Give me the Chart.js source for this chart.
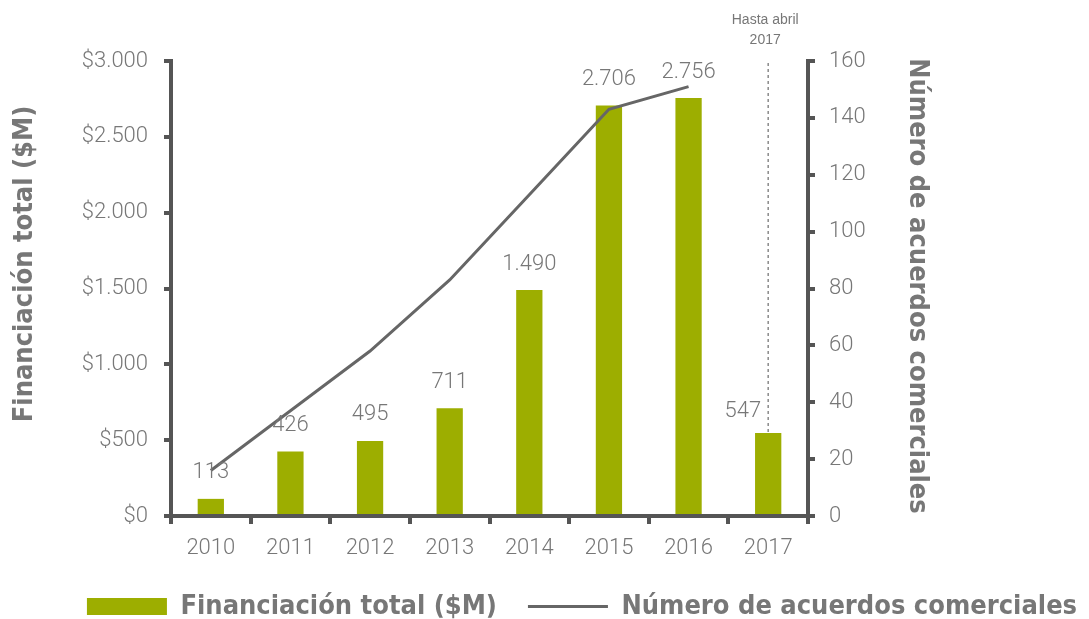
<!DOCTYPE html>
<html lang="es">
<head>
<meta charset="utf-8">
<title>Financiación total y número de acuerdos comerciales</title>
<script src="https://cdn.jsdelivr.net/npm/chart.js@4.4.1/dist/chart.umd.min.js"></script>
<style>
    html, body { margin: 0; padding: 0; background: #fff; }
    .chart-box { position: relative; width: 1089px; height: 619px; }
</style>
</head>
<body>
<div class="chart-box"><canvas id="fundingChart"></canvas></div>
<script>
// --- Datos ---
const years = ['2010', '2011', '2012', '2013', '2014', '2015', '2016', '2017'];
const fundingValues = [113, 426, 495, 711, 1490, 2706, 2756, 547];   // Financiación total ($M)
const dealCounts = [16, 37, 58, 83, 113, 143, 151, null];           // Número de acuerdos (2017 sin dato)
const fundingTicks = [0, 500, 1000, 1500, 2000, 2500, 3000];
const dealTicks = [0, 20, 40, 60, 80, 100, 120, 140, 160];
const partialYearNote = ['Hasta abril', '2017'];

// --- Colores y fuentes ---
const barColor = '#9DAE00';
const lineColor = '#666666';
const axisColor = '#555555';
const textGray = '#777777';
const lightFont = 'Roboto, "Liberation Sans", sans-serif';
const boldFont = '"Liberation Sans Narrow", "DejaVu Sans Condensed", "Liberation Sans", sans-serif';

// 1490 -> "1.490"
function formatThousands(v) {
    return String(v).replace(/\B(?=(\d{3})+(?!\d))/g, '.');
}

// Etiquetas de valor encima de cada barra + nota de 2017
const valueLabelsPlugin = {
    id: 'valueLabels',
    afterDatasetsDraw(chart) {
        const ctx = chart.ctx;
        const bars = chart.getDatasetMeta(0).data;
        const area = chart.chartArea;
        ctx.save();

        // línea punteada del año parcial
        const lastBar = bars[bars.length - 1];
        ctx.strokeStyle = '#8a8a8a';
        ctx.lineWidth = 1.5;
        ctx.setLineDash([3, 3]);
        ctx.beginPath();
        ctx.moveTo(lastBar.x, area.top + 2);
        ctx.lineTo(lastBar.x, lastBar.y);
        ctx.stroke();
        ctx.setLineDash([]);

        ctx.fillStyle = textGray;
        ctx.textBaseline = 'middle';
        ctx.font = '300 22px ' + lightFont;
        bars.forEach((bar, i) => {
            const last = i === bars.length - 1;
            ctx.textAlign = last ? 'right' : 'center';
            const x = last ? bar.x - 7 : bar.x;
            const y = last ? bar.y - 22 : bar.y - 26;
            ctx.fillText(formatThousands(fundingValues[i]), x, y);
        });

        ctx.textAlign = 'center';
        ctx.font = '14px "Liberation Sans", sans-serif';
        ctx.fillText(partialYearNote[0], lastBar.x - 3, 20);
        ctx.fillText(partialYearNote[1], lastBar.x - 3, 40);
        ctx.restore();
    }
};

// Títulos de los ejes (girados)
const axisTitlesPlugin = {
    id: 'axisTitles',
    afterDraw(chart) {
        const ctx = chart.ctx;
        ctx.save();
        ctx.fillStyle = textGray;
        ctx.font = 'bold 27px ' + boldFont;
        ctx.textAlign = 'center';
        ctx.textBaseline = 'middle';

        ctx.save();
        ctx.translate(25, 264);
        ctx.rotate(-Math.PI / 2);
        ctx.fillText('Financiación total ($M)', 0, 0);
        ctx.restore();

        ctx.save();
        ctx.translate(917, 286);
        ctx.rotate(Math.PI / 2);
        ctx.fillText('Número de acuerdos comerciales', 0, 0);
        ctx.restore();

        ctx.restore();
    }
};

const axisGrid = { drawOnChartArea: false, color: axisColor, lineWidth: 4, tickLength: 7 };
const axisBorder = { color: axisColor, width: 4 };

new Chart(document.getElementById('fundingChart'), {
    data: {
        labels: years,
        datasets: [
            {
                type: 'bar',
                label: 'Financiación total ($M)',
                data: fundingValues,
                backgroundColor: barColor,
                borderWidth: 0,
                barPercentage: 0.33,
                categoryPercentage: 1,
                pointStyle: 'rect',
                yAxisID: 'y',
                order: 2
            },
            {
                type: 'line',
                label: 'Número de acuerdos comerciales',
                data: dealCounts,
                borderColor: lineColor,
                backgroundColor: lineColor,
                borderWidth: 3,
                tension: 0,
                pointRadius: 0,
                pointStyle: 'line',
                spanGaps: false,
                yAxisID: 'y1',
                order: 1
            }
        ]
    },
    options: {
        responsive: true,
        maintainAspectRatio: false,
        animation: false,
        // right padding negativo: centra la leyenda como en el original
        layout: { padding: { top: 61, left: 0, right: -75, bottom: -11 } },
        scales: {
            x: {
                grid: { ...axisGrid, tickLength: 8 },
                border: axisBorder,
                ticks: { color: textGray, font: { family: lightFont, size: 22, weight: '300' }, padding: 11, maxRotation: 0 },
                afterFit(scale) { scale.height = 46; }
            },
            y: {
                position: 'left',
                min: 0,
                max: 3000,
                grid: axisGrid,
                border: axisBorder,
                afterBuildTicks(scale) { scale.ticks = fundingTicks.map(v => ({ value: v })); },
                ticks: {
                    color: textGray,
                    font: { family: lightFont, size: 22, weight: '300' },
                    padding: 16,
                    callback: v => '$' + formatThousands(v)
                },
                afterFit(scale) { scale.width = 171; }
            },
            y1: {
                position: 'right',
                min: 0,
                max: 160,
                grid: axisGrid,
                border: axisBorder,
                afterBuildTicks(scale) { scale.ticks = dealTicks.map(v => ({ value: v })); },
                ticks: {
                    color: textGray,
                    font: { family: lightFont, size: 22, weight: '300' },
                    padding: 14
                },
                afterFit(scale) { scale.width = 356; }
            }
        },
        plugins: {
            tooltip: { enabled: false },
            legend: {
                position: 'bottom',
                labels: {
                    usePointStyle: true,
                    pointStyleWidth: 80,
                    boxHeight: 17,
                    padding: 31,
                    color: textGray,
                    font: { family: boldFont, size: 27, weight: 'bold' },
                    sort: (a, b) => a.datasetIndex - b.datasetIndex
                }
            }
        }
    },
    plugins: [valueLabelsPlugin, axisTitlesPlugin]
});
</script>
</body>
</html>
